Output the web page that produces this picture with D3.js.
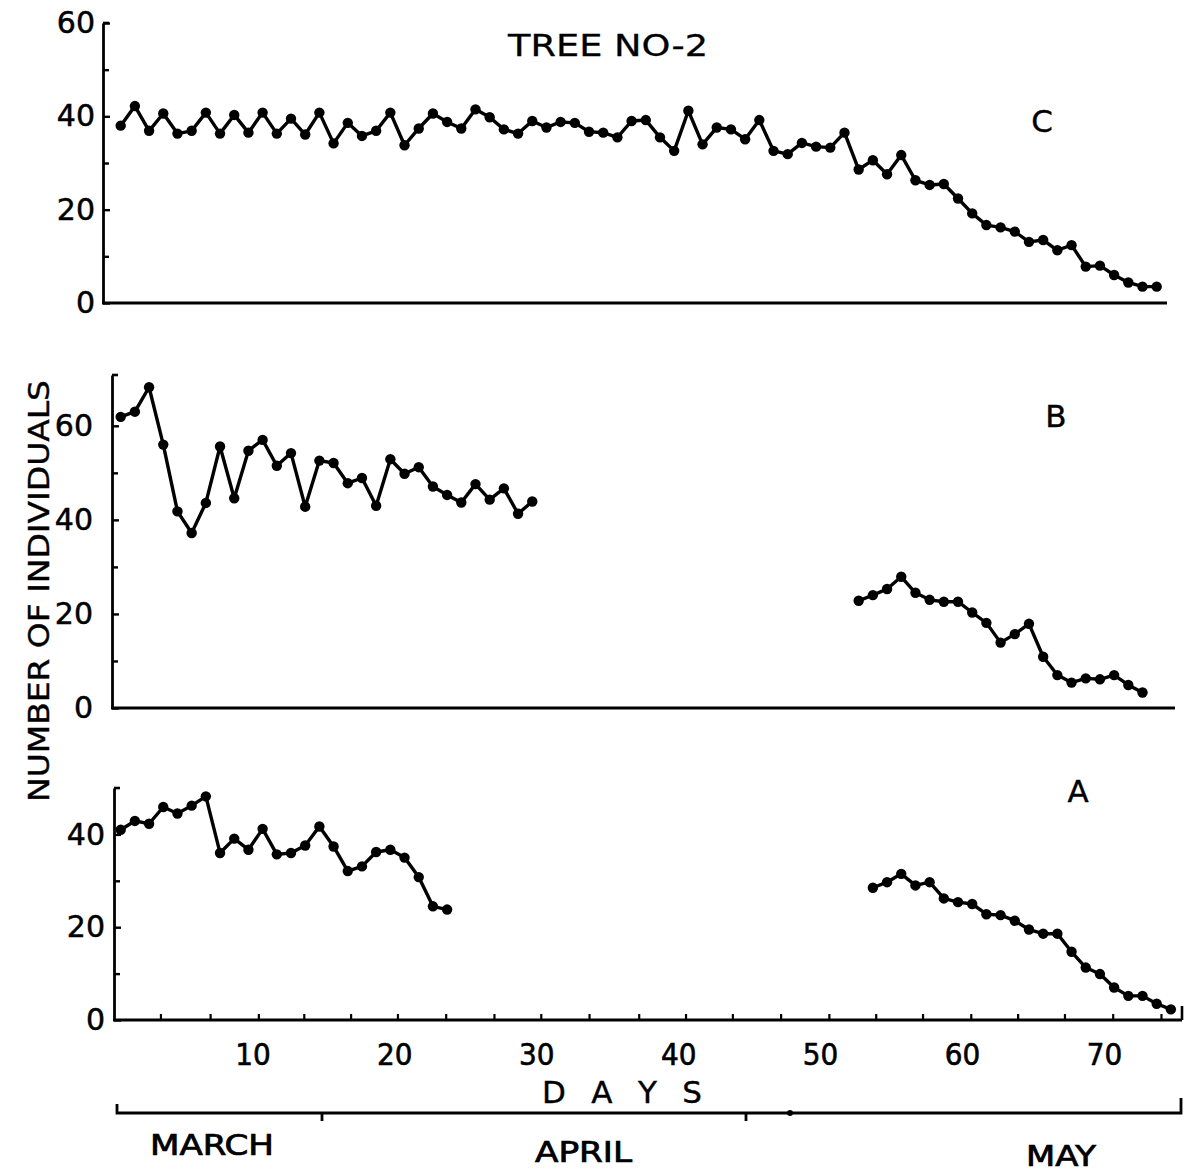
<!DOCTYPE html>
<html><head><meta charset="utf-8">
<script src="https://cdn.jsdelivr.net/npm/d3@7"></script>
<style>body{margin:0;background:#fff}</style>
</head><body>
<svg id="chart" width="1187" height="1175"></svg>
<script>
// ---------------- DATA ----------------
const title = "TREE NO-2";
const yAxisTitle = "NUMBER OF INDIVIDUALS";
const xAxisTitle = "DAYS";
const monthLabels = ["MARCH", "APRIL", "MAY"];
const dayTickLabels = [10, 20, 30, 40, 50, 60, 70];
const minorDayTicks = [3.8, 7.3, 10.7, 13.9, 17.2, 20.5, 23.9, 27.3, 30.6, 34, 37.5, 40.8, 44.1, 47.5, 50.9, 54.2, 57.5, 60.9, 64.2, 67.5, 70.9, 74.3];

// Panel C (days 1..74)
const cStartDay = 1;
const cValues = [38, 42.2, 36.9, 40.6, 36.3, 36.9, 40.8, 36.3, 40.3, 36.5,
  40.8, 36.3, 39.5, 36.1, 40.8, 34.2, 38.6, 35.8, 36.9, 40.8,
  33.8, 37.4, 40.6, 38.8, 37.4, 41.5, 39.8, 37.2, 36.3, 39.0,
  37.6, 38.8, 38.6, 36.7, 36.5, 35.5, 39.0, 39.2, 35.5, 32.6,
  41.2, 34.0, 37.6, 37.2, 35.1, 39.2, 32.6, 31.9, 34.3, 33.5,
  33.3, 36.5, 28.6, 30.6, 27.6, 31.7, 26.3, 25.3, 25.5, 22.4,
  19.2, 16.7, 16.2, 15.3, 13.1, 13.5, 11.3, 12.4, 7.8, 8.0,
  6.0, 4.4, 3.5, 3.5];

// Panel B
const bStartDay1 = 1;
const bValues1 = [61.9, 63.0, 68.2, 56.0, 41.8, 37.2, 43.6, 55.6, 44.6, 54.7,
  57.0, 51.5, 54.2, 42.8, 52.6, 52.1, 47.8, 48.9, 43.0, 52.9,
  49.8, 51.2, 47.1, 45.3, 43.7, 47.6, 44.3, 46.7, 41.3, 43.9];
const bStartDay2 = 53;
const bValues2 = [22.8, 24.0, 25.3, 27.9, 24.5, 23.0, 22.6, 22.6, 20.3, 18.1,
  13.9, 15.7, 17.9, 10.9, 7.0, 5.4, 6.3, 6.1, 7.0, 4.9, 3.3];

// Panel A
const aStartDay1 = 1;
const aValues1 = [41.0, 42.9, 42.3, 45.9, 44.5, 46.2, 48.2, 36.0, 39.1, 36.7,
  41.2, 35.7, 36.0, 37.6, 41.7, 37.4, 32.1, 33.1, 36.2, 36.7,
  35.0, 30.8, 24.5, 23.8];
const aStartDay2 = 54;
const aValues2 = [28.5, 29.7, 31.5, 29.0, 29.7, 26.2, 25.4, 25.0, 22.8, 22.6,
  21.4, 19.5, 18.6, 18.6, 14.7, 11.3, 9.9, 7.0, 5.2, 5.2, 3.5, 2.3];

const panelNames = ["C", "B", "A"];
const majorTicksC = [0, 20, 40, 60], minorTicksC = [10, 30, 50];
const majorTicksB = [0, 20, 40, 60], minorTicksB = [10, 30, 50];
const majorTicksA = [0, 20, 40], minorTicksA = [10, 30];

// ---------------- LAYOUT ----------------
const svg = d3.select("#chart");
const FONT = "'DejaVu Sans', sans-serif";
const COND = "'DejaVu Sans Condensed', 'DejaVu Sans', sans-serif";
const x = d3.scaleLinear().domain([1, 74]).range([120.7, 1156.7]);

function ink(sel, w) { return sel.attr("fill", "#000").attr("stroke", "#000").attr("stroke-width", w); }

const panels = [
  {name: panelNames[0], axisX: 103, dom: [0, 60], rng: [303, 23], major: majorTicksC, minor: minorTicksC,
   baseEnd: 1167, pad: 8, labelPos: [1042, 132],
   series: [{start: cStartDay, values: cValues}]},
  {name: panelNames[1], axisX: 112, dom: [0, 70.8], rng: [708, 375], major: majorTicksB, minor: minorTicksB,
   baseEnd: 1175, pad: 19, labelPos: [1056, 427],
   series: [{start: bStartDay1, values: bValues1}, {start: bStartDay2, values: bValues2}]},
  {name: panelNames[2], axisX: 114, dom: [0, 50], rng: [1020, 788], major: majorTicksA, minor: minorTicksA,
   baseEnd: 1182, pad: 9, labelPos: [1078, 802],
   series: [{start: aStartDay1, values: aValues1}, {start: aStartDay2, values: aValues2}]}
];

panels.forEach((p, pi) => {
  const y = d3.scaleLinear().domain(p.dom).range(p.rng);
  const g = svg.append("g");

  const ax = g.append("g").attr("transform", `translate(${p.axisX},0)`)
    .call(d3.axisLeft(y).tickValues(p.major).tickSizeInner(-7).tickSizeOuter(0).tickPadding(p.pad).tickFormat(d3.format("d")));
  ax.select(".domain").attr("stroke", "#000").attr("stroke-width", 2.8);
  ax.selectAll(".tick line").attr("stroke", "#000").attr("stroke-width", 2.4);
  ink(ax.selectAll(".tick text").attr("font-family", FONT).attr("font-size", 30), 0.5);

  const mx = g.append("g").attr("transform", `translate(${p.axisX},0)`)
    .call(d3.axisLeft(y).tickValues(p.minor).tickSizeInner(-6).tickSizeOuter(0).tickFormat(""));
  mx.select(".domain").remove();
  mx.selectAll(".tick line").attr("stroke", "#000").attr("stroke-width", 2.4);
  g.append("line").attr("x1", p.axisX).attr("x2", p.axisX + 6)
    .attr("y1", p.rng[1]).attr("y2", p.rng[1]).attr("stroke", "#000").attr("stroke-width", 2.6);

  g.append("line").attr("x1", p.axisX - 1).attr("x2", p.baseEnd)
    .attr("y1", y(0)).attr("y2", y(0)).attr("stroke", "#000").attr("stroke-width", 3);

  const line = d3.line().x(d => x(d.day)).y(d => y(d.v));
  p.series.forEach(s => {
    const pts = s.values.map((v, i) => ({day: s.start + i, v}));
    g.append("path").datum(pts).attr("d", line)
      .attr("fill", "none").attr("stroke", "#000").attr("stroke-width", 3.4).attr("stroke-linejoin", "round");
    g.selectAll(null).data(pts).enter().append("circle")
      .attr("cx", d => x(d.day)).attr("cy", d => y(d.v)).attr("r", 5.2).attr("fill", "#000");
  });

  ink(g.append("text").attr("x", p.labelPos[0]).attr("y", p.labelPos[1])
    .attr("text-anchor", "middle").attr("font-family", FONT).attr("font-size", 31).text(p.name), 0.4);

  if (pi === 2) {
    const dt = g.append("g").attr("transform", `translate(0,${y(0)})`)
      .call(d3.axisBottom(x).tickValues(minorDayTicks).tickSizeInner(-6).tickSizeOuter(0).tickFormat(""));
    dt.select(".domain").remove();
    dt.selectAll(".tick line").attr("stroke", "#000").attr("stroke-width", 2.2);
    g.append("line").attr("x1", p.baseEnd).attr("x2", p.baseEnd)
      .attr("y1", y(0)).attr("y2", y(0) - 14).attr("stroke", "#000").attr("stroke-width", 2.6);

    const lab = g.append("g").attr("transform", `translate(0,1043)`)
      .call(d3.axisBottom(x).tickValues(dayTickLabels).tickSize(0).tickPadding(0).tickFormat(d3.format("d")));
    lab.select(".domain").remove();
    ink(lab.selectAll(".tick text").attr("font-family", COND).attr("font-size", 31).attr("dx", 4), 0.6);
  }
});

ink(svg.append("text").attr("x", 508).attr("y", 56).attr("font-family", FONT).attr("font-size", 30)
  .attr("textLength", 200).attr("lengthAdjust", "spacingAndGlyphs").text(title), 0.3);

ink(svg.append("text").attr("transform", "translate(49,802) rotate(-90)")
  .attr("font-family", FONT).attr("font-size", 28)
  .attr("textLength", 422).attr("lengthAdjust", "spacingAndGlyphs").text(yAxisTitle), 0.4);

ink(svg.append("text").attr("x", 542).attr("y", 1103).attr("font-family", FONT).attr("font-size", 31)
  .attr("textLength", 160).attr("lengthAdjust", "spacing").text(xAxisTitle.split("").join(" ")), 0.4);

const br = svg.append("g").attr("stroke", "#000").attr("stroke-width", 2.8).attr("fill", "none");
br.append("path").attr("d", "M117,1104 L117,1113 L1181,1113 L1181,1098");
br.append("line").attr("x1", 322).attr("x2", 322).attr("y1", 1113).attr("y2", 1121);
br.append("line").attr("x1", 746).attr("x2", 746).attr("y1", 1113).attr("y2", 1121);
svg.append("circle").attr("cx", 790).attr("cy", 1113).attr("r", 3).attr("fill", "#000");

const monthPos = [[150, 1155, 124], [535, 1162, 97], [1026, 1166, 70]];
monthLabels.forEach((m, i) => {
  ink(svg.append("text").attr("x", monthPos[i][0]).attr("y", monthPos[i][1])
    .attr("font-family", COND).attr("font-size", 28)
    .attr("textLength", monthPos[i][2]).attr("lengthAdjust", "spacingAndGlyphs").text(m), 0.7);
});
</script>
</body></html>
